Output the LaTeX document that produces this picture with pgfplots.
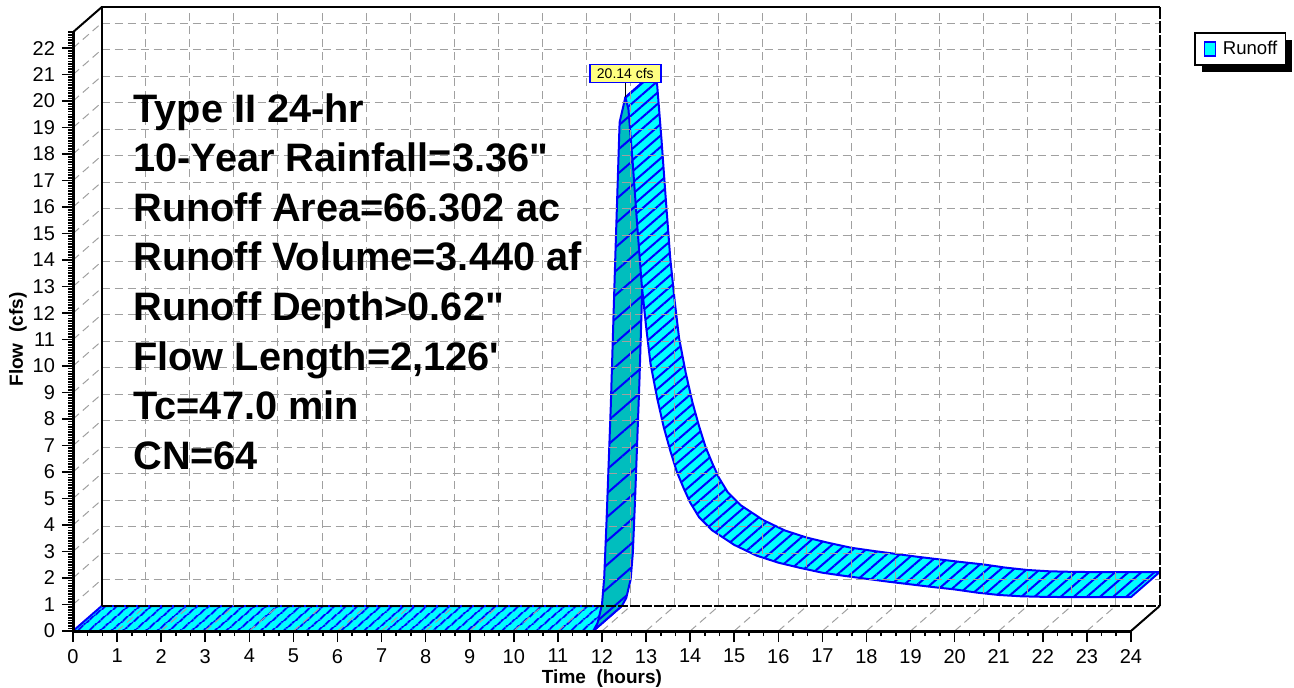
\documentclass[border=0pt]{standalone}
\usepackage{fontspec}
\setmainfont{Liberation Sans}[Ligatures=TeXOff]
\usepackage{pgfplots}
\usepackage{pgfplotstable}
\pgfplotsset{compat=1.18}
\usepgfplotslibrary{fillbetween}
\usetikzlibrary{patterns.meta,shadows}

\makeatletter
\tikzset{noshadow/.code={\let\tikz@preactions\pgfutil@empty}}
\makeatother

\definecolor{runcyan}{RGB}{0,255,255}
\definecolor{runteal}{RGB}{0,190,190}
\definecolor{runblue}{RGB}{0,0,255}
\definecolor{gridgray}{RGB}{160,160,160}
\definecolor{lblyellow}{RGB}{255,255,128}

\pgfplotstableread{
t q
0 0
11.8 0
}\flatdata

\pgfplotstableread{
t q
11.8 0
11.9 0.3
12.0 1.0
12.05 2.0
12.1 4.0
12.2 8.5
12.3 14.0
12.4 19.2
12.53 20.14
}\risedata

\pgfplotstableread{
t q
12.53 20.14
12.6 19.7
12.7 17.6
12.8 15.3
12.9 13.1
13.0 11.5
13.1 10.1
13.25 8.8
13.4 7.7
13.55 6.8
13.7 6.0
13.85 5.4
14.0 4.85
14.2 4.3
14.5 3.8
15.0 3.25
15.5 2.85
16.0 2.58
16.5 2.38
17.0 2.2
17.5 2.08
18.0 1.97
18.5 1.86
19.0 1.76
19.5 1.66
20.0 1.57
20.5 1.45
21.0 1.36
21.5 1.31
22.0 1.29
22.5 1.28
23.0 1.28
24.0 1.28
}\falldata

\tikzset{
  gridline/.style={gridgray, line width=0.5pt, dash pattern=on 4pt off 2.5pt},
  frameline/.style={black, line width=1pt},
  edge/.style={draw=runblue, line width=1pt, line join=round},
}

\begin{document}
\begin{tikzpicture}
\begin{axis}[
  at={(0,0)}, anchor=south west,
  scale only axis, width=543.3pt, height=312pt,
  xmin=0, xmax=24.65, ymin=0, ymax=23.55,
  clip=false,
  axis line style={draw=none},
  xtick={0,...,24}, ytick={0,...,22},
  minor x tick num=2,
  minor ytick={0,0.1,...,22.6},
  tick pos=left,
  tick align=outside,
  major tick length=5.5pt, minor tick length=2.5pt,
  tick style={black, line width=0.8pt},
  ticklabel style={font=\fontsize{10}{12}\selectfont},
  /pgf/number format/assume math mode=true,
  xlabel={Time\ \ (hours)}, ylabel={Flow\ \ (cfs)},
  label style={font=\bfseries\fontsize{9.5}{11}\selectfont},
  xlabel style={at={(axis description cs:0.4868,-0.0755)}, anchor=center},
  ylabel style={at={(axis description cs:-0.0506,0.467)}, anchor=center},
  legend style={at={(axis description cs:1.0317,0.96)}, anchor=north west,
    draw=black, line width=0.8pt, fill=white,
    font=\fontsize{9.3}{11}\selectfont, inner xsep=2pt, inner ysep=2pt,
    drop shadow={shadow xshift=3.5pt, shadow yshift=-3.5pt, fill=black, opacity=1}},
]

% grid on back wall, floor and left wall
\pgfplotsinvokeforeach{1,...,23}{
  \draw[gridline] (axis cs:#1+0.65,0.943) -- (axis cs:#1+0.65,23.543);
  \draw[gridline] (axis cs:#1,0) -- (axis cs:#1+0.65,0.943);
}
\pgfplotsinvokeforeach{1,...,22}{
  \draw[gridline] (axis cs:0.65,#1+0.943) -- (axis cs:24.65,#1+0.943);
  \draw[gridline] (axis cs:0,#1) -- (axis cs:0.65,#1+0.943);
}

% frame
\draw[frameline] (axis cs:0.65,0.943) -- (axis cs:0.65,23.543) -- (axis cs:24.65,23.543);
\draw[frameline, dash pattern=on 6pt off 1pt] (axis cs:24.65,23.543) -- (axis cs:24.65,0.943);
\draw[frameline, dash pattern=on 5pt off 1pt] (axis cs:0.65,0.943) -- (axis cs:24.65,0.943);
\draw[frameline] (axis cs:24,0) -- (axis cs:24.65,0.943);
\draw[frameline] (axis cs:0,22.6) -- (axis cs:0.65,23.543);
\draw[black, line width=1.5pt] (axis cs:0,22.6) -- (axis cs:0,0) -- (axis cs:24,0);

% flat part of ribbon
\addplot[draw=none, name path=flf, forget plot] table[x=t,y=q]{\flatdata};
\addplot[draw=none, name path=flb, forget plot] table[x expr=\thisrow{t}+0.65, y expr=\thisrow{q}+0.943]{\flatdata};
\addplot[fill=runcyan, draw=none, forget plot] fill between[of=flf and flb];
\addplot[pattern={Lines[angle=41,distance=3.85pt,line width=1pt]}, pattern color=runblue, edge, forget plot] fill between[of=flf and flb];

% rising face
\addplot[draw=none, name path=rif, forget plot] table[x=t,y=q]{\risedata};
\addplot[draw=none, name path=rib, forget plot] table[x expr=\thisrow{t}+0.65, y expr=\thisrow{q}+0.943]{\risedata};
\addplot[fill=runteal, draw=none, forget plot] fill between[of=rif and rib];
\addplot[pattern={Lines[angle=41,distance=9pt,line width=1pt]}, pattern color=runblue, edge, forget plot] fill between[of=rif and rib];

% falling face
\addplot[draw=none, name path=faf, forget plot] table[x=t,y=q]{\falldata};
\addplot[draw=none, name path=fab, forget plot] table[x expr=\thisrow{t}+0.65, y expr=\thisrow{q}+0.943]{\falldata};
\addplot[fill=runcyan, draw=none, forget plot] fill between[of=faf and fab];
\addplot[pattern={Lines[angle=41,distance=4.3pt,line width=1pt]}, pattern color=runblue, edge, forget plot] fill between[of=faf and fab];

% peak label
\draw[black, line width=0.8pt] (axis cs:12.53,20.14) -- ++(0pt,7pt);
\node[draw=runblue, fill=lblyellow, line width=0.8pt, inner sep=1.2pt, anchor=south,
      minimum height=9pt, minimum width=35.5pt, font=\fontsize{7}{8}\selectfont]
  at ([yshift=7pt]axis cs:12.53,20.14) {20.14 cfs};

% description text
\begin{scope}[every node/.style={anchor=base west, inner sep=0pt, font=\bfseries\fontsize{19.85}{20}\selectfont}]
\node at (axis cs:1.36,19.2) {Type II 24-hr};
\node at (axis cs:1.36,17.33) {10-Year Rainfall=3.36"};
\node at (axis cs:1.36,15.46) {Runoff Area=66.302 ac};
\node at (axis cs:1.36,13.59) {Runoff Volume=3.440 af};
\node at (axis cs:1.36,11.72) {Runoff Depth>0.62"};
\node at (axis cs:1.36,9.85) {Flow Length=2,126'};
\node at (axis cs:1.36,7.98) {Tc=47.0 min};
\node at (axis cs:1.36,6.11) {CN=64};
\end{scope}

\addlegendimage{legend image code/.code={
  \path[noshadow, draw=none, fill=none] (0pt,-1pt) rectangle (10pt,1pt);
  \draw[noshadow, fill=runcyan,draw=runblue,line width=0.6pt] (3pt,-3.5pt) rectangle (8.5pt,3.5pt);}}
\addlegendentry{Runoff}
\end{axis}
\pgfresetboundingbox
\path (-36.5pt,-28pt) rectangle (610.5pt,315.5pt);
\end{tikzpicture}
\end{document}
